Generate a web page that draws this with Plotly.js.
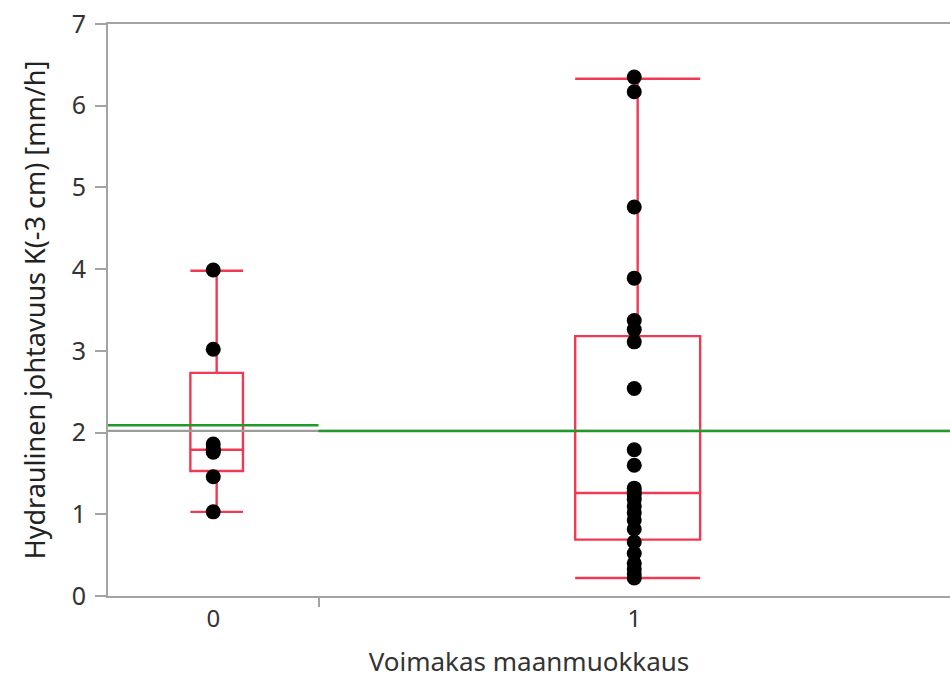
<!DOCTYPE html>
<html>
<head>
<meta charset="utf-8">
<script src="https://cdn.plot.ly/plotly-3.0.1.min.js"></script>
<style>html,body{margin:0;padding:0;background:#fff;}#chart{width:950px;height:679px;}</style>
</head>
<body>
<div id="chart"></div>
<script>
// ---- data ----
const groupLabels = ['0', '1'];
const values0 = [3.99, 3.02, 1.86, 1.80, 1.78, 1.76, 1.46, 1.03];
const values1 = [6.35, 6.17, 4.76, 3.89, 3.37, 3.26, 3.11, 2.54, 1.79, 1.60,
                 1.32, 1.28, 1.24, 1.18, 1.10, 1.02, 0.93, 0.82, 0.66, 0.52, 0.40, 0.33, 0.27, 0.22];
// box statistics (JMP quantiles)
const q1s      = [1.53, 0.69];
const medians  = [1.79, 1.26];
const q3s      = [2.73, 3.18];
const lowers   = [1.03, 0.22];
const uppers   = [3.98, 6.33];
const groupMeans = [2.09, 2.02];
const grandMean = 2.02;
const yTicks = [0, 1, 2, 3, 4, 5, 6, 7];

// ---- layout of groups (width proportional to n, as JMP does) ----
const groups = [values0, values1];
const ns = groups.map(g => g.length);
const starts = [0, ns[0]];
const ends = [ns[0], ns[0] + ns[1]];
const centers = starts.map((s, i) => (s + ends[i]) / 2);
const total = ends[1];
const boxWidths = [2.0, 4.75];
const boxOffset = 0.13;

const red = '#f03a53';
const green = '#1f9a2a';
const gray = '#a3a3a3';
const font = 'Noto Sans, Open Sans, sans-serif';

const traces = [];
// boxes
groups.forEach((g, i) => {
  traces.push({type: 'box', x: [centers[i] + boxOffset], q1: [q1s[i]], median: [medians[i]], q3: [q3s[i]],
    lowerfence: [lowers[i]], upperfence: [uppers[i]], width: boxWidths[i], whiskerwidth: 1,
    boxpoints: false, line: {color: red, width: 2.4}, fillcolor: 'rgba(0,0,0,0)', showlegend: false});
});
// points
groups.forEach((g, i) => {
  traces.push({type: 'scatter', mode: 'markers', x: g.map(() => centers[i]), y: g,
    marker: {color: '#000', size: 15}, showlegend: false});
});
// grand mean line (overlay axis, which also carries the group-boundary tick)
traces.push({x: [0, total], y: [grandMean, grandMean], xaxis: 'x2', yaxis: 'y',
  mode: 'lines', line: {color: '#9c9c9c', width: 2.2}, hoverinfo: 'skip', showlegend: false});
// group mean lines
groups.forEach((g, i) => {
  traces.push({x: [starts[i], ends[i]], y: [groupMeans[i], groupMeans[i]], xaxis: 'x2', yaxis: 'y',
    mode: 'lines', line: {color: green, width: 2.6}, hoverinfo: 'skip', showlegend: false});
});

const layout = {
  width: 950, height: 679,
  margin: {l: 108, r: 0, t: 24, b: 83},
  paper_bgcolor: '#fff', plot_bgcolor: '#fff',
  font: {family: font, color: '#333', size: 20},
  xaxis: {range: [0, total], tickmode: 'array', tickvals: centers, ticktext: groupLabels,
    ticks: '', showgrid: false, zeroline: false, showline: true, linecolor: gray, linewidth: 2,
    mirror: true, tickfont: {size: 24, color: '#333'}, ticklabelstandoff: 0,
    title: {text: 'Voimakas maanmuokkaus', font: {size: 26, color: '#333'}, standoff: 20}},
  xaxis2: {range: [0, total], overlaying: 'x', anchor: 'y', side: 'bottom', tickmode: 'array',
    tickvals: [ends[0]], ticks: 'outside', ticklen: 10, tickwidth: 2, tickcolor: gray,
    showticklabels: false, showgrid: false, zeroline: false, showline: false},
  yaxis: {range: [0, 7], tickmode: 'array', tickvals: yTicks, ticks: 'outside', ticklen: 11,
    tickwidth: 2, tickcolor: gray, showgrid: false, zeroline: false, showline: true,
    linecolor: gray, linewidth: 2, tickfont: {size: 25, color: '#333'}, ticklabelstandoff: 4,
    title: {text: 'Hydraulinen johtavuus K(-3 cm) [mm/h]', font: {size: 27, color: '#222'}, standoff: 18}},
  showlegend: false
};

Plotly.newPlot('chart', traces, layout, {staticPlot: true});
</script>
</body>
</html>
